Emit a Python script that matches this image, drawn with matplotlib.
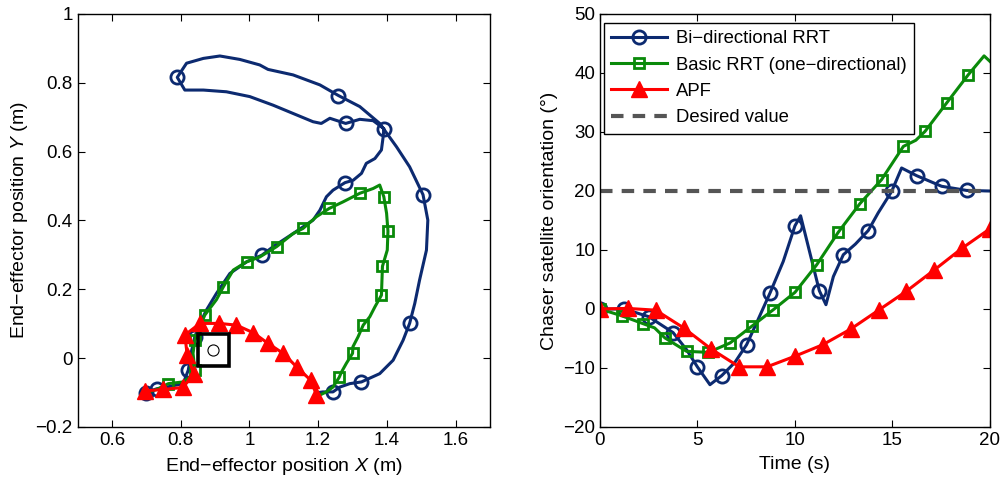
import numpy as np
import matplotlib
matplotlib.use("Agg")
import matplotlib.pyplot as plt
from matplotlib.patches import Rectangle

plt.rcParams['font.family'] = ['Liberation Sans', 'DejaVu Sans']
plt.rcParams['mathtext.fontset'] = 'custom'
plt.rcParams['mathtext.rm'] = 'Liberation Sans'
plt.rcParams['mathtext.it'] = 'Liberation Sans:italic'
plt.rcParams['font.size'] = 13.5

# couleurs des méthodes
c_bi = '#0c2a70'
c_basic = '#0a8a0a'
c_apf = '#ff0000'
c_des = '#555555'

# --- trajectoire de l'effecteur (gauche) ---
bi_x = [0.699, 0.730, 0.759, 0.807, 0.822, 0.832, 0.841, 0.856, 0.875, 0.904, 0.943, 0.992,
        1.036, 1.069, 1.127, 1.185, 1.205, 1.224, 1.243, 1.278, 1.302, 1.326, 1.340, 1.365,
        1.384, 1.389, 1.391, 1.360, 1.321, 1.280, 1.234, 1.209, 1.185, 1.127, 1.069, 1.001,
        0.933, 0.866, 0.812, 0.790, 0.817, 0.866, 0.914, 0.972, 1.030, 1.054, 1.127, 1.205,
        1.259, 1.321, 1.379, 1.428, 1.466, 1.505, 1.519, 1.515, 1.495, 1.481, 1.466, 1.447,
        1.418, 1.379, 1.326, 1.292, 1.263, 1.243, 1.214, 1.200]
bi_y = [-0.100, -0.089, -0.084, -0.074, -0.035, 0.023, 0.062, 0.101, 0.140, 0.188, 0.246, 0.280,
        0.299, 0.324, 0.362, 0.401, 0.430, 0.469, 0.488, 0.510, 0.517, 0.537, 0.566, 0.580,
        0.605, 0.643, 0.667, 0.690, 0.694, 0.682, 0.697, 0.682, 0.687, 0.711, 0.735, 0.760,
        0.774, 0.779, 0.779, 0.816, 0.857, 0.871, 0.878, 0.868, 0.852, 0.839, 0.823, 0.794,
        0.763, 0.731, 0.682, 0.614, 0.556, 0.475, 0.401, 0.314, 0.227, 0.159, 0.101, 0.052,
        -0.006, -0.045, -0.069, -0.074, -0.084, -0.098, -0.098, -0.100]
bi_mk = [0, 1, 4, 6, 12, 19, 26, 29, 39, 48, 53, 58, 62, 65]

basic_x = [0.701, 0.730, 0.764, 0.807, 0.827, 0.841, 0.836, 0.841, 0.856, 0.870, 0.904, 0.924,
           0.953, 0.992, 1.030, 1.079, 1.127, 1.156, 1.195, 1.232, 1.272, 1.321, 1.360, 1.379,
           1.391, 1.399, 1.403, 1.401, 1.387, 1.384, 1.365, 1.350, 1.331, 1.316, 1.301, 1.300,
           1.282, 1.268, 1.261, 1.243, 1.224, 1.205]
basic_y = [-0.100, -0.091, -0.074, -0.069, -0.055, -0.035, 0.014, 0.052, 0.091, 0.125, 0.170, 0.207,
           0.256, 0.280, 0.294, 0.324, 0.362, 0.377, 0.411, 0.435, 0.454, 0.479, 0.493, 0.503,
           0.469, 0.421, 0.369, 0.314, 0.267, 0.183, 0.149, 0.120, 0.096, 0.062, 0.033, 0.014,
           -0.015, -0.040, -0.056, -0.084, -0.098, -0.107]
basic_mk = [2, 5, 7, 9, 11, 13, 15, 17, 19, 21, 24, 26, 28, 29, 32, 35, 38]

apf_x = [0.696, 0.749, 0.807, 0.838, 0.819, 0.812, 0.856, 0.912, 0.962, 1.011, 1.054, 1.098,
         1.137, 1.178, 1.195]
apf_y = [-0.095, -0.091, -0.085, -0.045, 0.009, 0.067, 0.101, 0.101, 0.096, 0.074, 0.043, 0.014,
         -0.025, -0.064, -0.106]

obst_center = (0.895, 0.024)
obst_half = 0.046

xl_ticks = [0.6, 0.8, 1.0, 1.2, 1.4, 1.6]
xl_labels = ['0.6', '0.8', '1', '1.2', '1.4', '1.6']
yl_ticks = [-0.2, 0, 0.2, 0.4, 0.6, 0.8, 1.0]
yl_labels = ['\u22120.2', '0', '0.2', '0.4', '0.6', '0.8', '1']

# --- orientation du satellite chasseur (droite) ---
bi_t = [0, 1.25, 2.5, 3.75, 4.44, 5.0, 5.64, 6.24, 6.92, 7.52, 8.03, 8.72, 9.4, 10.0, 10.29,
        11.25, 11.59, 11.97, 12.48, 13.1, 13.76, 14.27, 14.96, 15.47, 16.24, 17.52, 18.8, 20.0]
bi_th = [0, 0, -1.3, -4.0, -6.9, -9.83, -12.83, -11.3, -9.05, -6.05, -2.37, 2.71, 8.07, 14.1, 15.8,
         3.1, 0.73, 5.5, 9.2, 11.0, 13.3, 16.3, 19.93, 23.9, 22.6, 20.8, 20.1, 20.0]
bi_t_mk = [0, 1, 2, 3, 5, 7, 9, 11, 13, 15, 18, 20, 22, 24, 25, 26]

basic_t = [0, 1.11, 2.22, 2.8, 3.33, 4.44, 5.56, 6.67, 7.78, 8.89, 10.0, 11.11, 12.22, 13.33,
           14.44, 15.56, 16.2, 16.67, 17.78, 18.89, 19.7, 20.0]
basic_th = [0, -1.14, -2.5, -3.2, -4.9, -7.17, -7.35, -5.76, -2.94, -0.12, 2.82, 7.47, 13.0, 17.85,
            21.92, 27.56, 28.6, 30.1, 34.92, 39.71, 42.9, 41.97]
basic_t_mk = [0, 1, 2, 4, 5, 6, 7, 8, 9, 10, 11, 12, 13, 14, 15, 17, 18, 19]

apf_t = [0, 1.43, 2.86, 4.29, 5.71, 7.14, 8.57, 10.0, 11.43, 12.86, 14.29, 15.71, 17.14, 18.57, 20.0]
apf_th = [0, 0.1, -0.2, -3.2, -6.8, -9.8, -9.8, -8.0, -6.05, -3.4, -0.2, 3.0, 6.6, 10.3, 13.6]

desired_t = [0, 20]
desired_th = [20, 20]

labels = ['Bi\u2212directional RRT', 'Basic RRT (one\u2212directional)', 'APF', 'Desired value']

fig = plt.figure(figsize=(10.05, 4.86), dpi=100)
ax1 = fig.add_axes([0.0772, 0.1214, 0.4104, 0.8498])
ax2 = fig.add_axes([0.597, 0.1214, 0.388, 0.8498])

lw = 2.2
bi_style = dict(color=c_bi, lw=lw, marker='o', ms=9.5, mfc='none', mew=2)
basic_style = dict(color=c_basic, lw=lw, marker='s', ms=7.5, mfc='none', mew=2)
apf_style = dict(color=c_apf, lw=lw, marker='^', ms=11.5, mfc=c_apf, mew=1)

ax1.plot(bi_x, bi_y, markevery=bi_mk, **bi_style)
ax1.plot(basic_x, basic_y, markevery=basic_mk, **basic_style)
ax1.plot(apf_x, apf_y, **apf_style)
ax1.add_patch(Rectangle((obst_center[0] - obst_half, obst_center[1] - obst_half),
                        2 * obst_half, 2 * obst_half, fill=False, ec='black', lw=2.6, zorder=5))
ax1.plot([obst_center[0]], [obst_center[1]], marker='o', ms=8, mfc='none', mec='black', mew=0.8, zorder=6)

ax1.set_xlim(0.5, 1.7)
ax1.set_ylim(-0.2, 1.0)
ax1.set_xticks(xl_ticks)
ax1.set_xticklabels(xl_labels)
ax1.set_yticks(yl_ticks)
ax1.set_yticklabels(yl_labels)
ax1.set_xlabel('End\u2212effector position $X$ (m)', fontsize=14, labelpad=5)
ax1.set_ylabel('End\u2212effector position $Y$ (m)', fontsize=14, labelpad=4)

l1, = ax2.plot(bi_t, bi_th, markevery=bi_t_mk, **bi_style)
l2, = ax2.plot(basic_t, basic_th, markevery=basic_t_mk, **basic_style)
l3, = ax2.plot(apf_t, apf_th, **apf_style)
l4, = ax2.plot(desired_t, desired_th, color=c_des, lw=3, ls=(0, (3, 2.2)))
ax2.set_xlim(0, 20)
ax2.set_ylim(-20, 50)
ax2.set_xticks([0, 5, 10, 15, 20])
ax2.set_yticks([-20, -10, 0, 10, 20, 30, 40, 50])
ax2.set_xlabel('Time (s)', fontsize=14, labelpad=5)
ax2.set_ylabel('Chaser satellite orientation (°)', fontsize=14, labelpad=4)

leg = ax2.legend([l1, l2, l3, l4], labels, loc='upper left', bbox_to_anchor=(0.01, 0.978),
                 borderaxespad=0, fancybox=False, framealpha=1, edgecolor='black',
                 fontsize=13.3, handlelength=3.0, labelspacing=0.5, borderpad=0.4,
                 handletextpad=0.5)
leg.get_frame().set_linewidth(1.0)
# le marqueur au milieu du segment de légende
for h in leg.legend_handles[:3]:
    h.set_markevery([1])

for ax in (ax1, ax2):
    ax.tick_params(direction='in', top=True, right=True, length=5, width=0.8, labelsize=13.5)
    for s in ax.spines.values():
        s.set_linewidth(1.0)

fig.savefig('out.png', dpi=100)
